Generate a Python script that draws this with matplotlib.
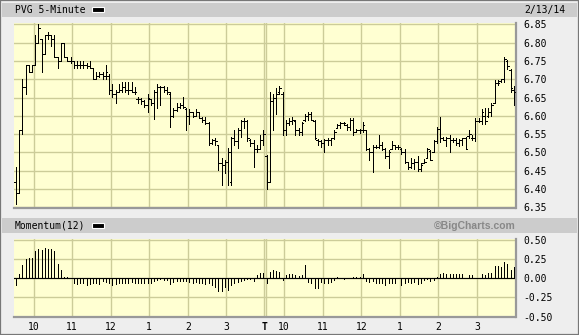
import numpy as np
import matplotlib
matplotlib.use("Agg")
import matplotlib.pyplot as plt
from matplotlib.patches import Rectangle

plt.rcParams['font.family'] = 'DejaVu Sans Mono'
plt.rcParams['axes.unicode_minus'] = False

# PVG 5-minute bars, 2/12/14 and 2/13/14 (78 bars per day)
opens = [6.42, 6.39, 6.56, 6.68, 6.74, 6.72, 6.74, 6.80, 6.81, 6.77,
         6.82, 6.82, 6.81, 6.76, 6.75, 6.80, 6.76, 6.75, 6.75, 6.74,
         6.74, 6.74, 6.74, 6.735, 6.73, 6.70, 6.71, 6.715, 6.71, 6.71,
         6.67, 6.66, 6.665, 6.67, 6.68, 6.67, 6.67, 6.665, 6.645, 6.645,
         6.64, 6.63, 6.645, 6.635, 6.665, 6.68, 6.68, 6.67, 6.66, 6.60,
         6.615, 6.625, 6.63, 6.62, 6.60, 6.61, 6.60, 6.61, 6.595, 6.59,
         6.58, 6.525, 6.535, 6.52, 6.47, 6.465, 6.475, 6.42, 6.54, 6.53,
         6.56, 6.585, 6.585, 6.535, 6.525, 6.51, 6.51, 6.535,
         6.49, 6.42, 6.64, 6.65, 6.665, 6.66, 6.56, 6.58, 6.585, 6.585, 6.56, 6.555,
         6.59, 6.60, 6.605, 6.585, 6.535, 6.53, 6.525, 6.535, 6.535, 6.54,
         6.566, 6.575, 6.58, 6.575, 6.57, 6.59, 6.556, 6.56, 6.56, 6.56,
         6.51, 6.50, 6.515, 6.515, 6.52, 6.51, 6.49, 6.51, 6.52, 6.515,
         6.51, 6.50, 6.475, 6.46, 6.47, 6.475, 6.455, 6.47, 6.485, 6.505,
         6.50, 6.53, 6.565, 6.54, 6.535, 6.54, 6.535, 6.535, 6.525, 6.535,
         6.54, 6.545, 6.54, 6.54, 6.585, 6.585, 6.60, 6.60, 6.61, 6.635,
         6.69, 6.695, 6.70, 6.75, 6.725, 6.67]
highs = [6.46, 6.56, 6.70, 6.74, 6.74, 6.74, 6.82, 6.85, 6.81, 6.82,
         6.83, 6.82, 6.82, 6.76, 6.80, 6.80, 6.76, 6.76, 6.75, 6.75,
         6.75, 6.75, 6.745, 6.75, 6.73, 6.72, 6.72, 6.72, 6.74, 6.713,
         6.688, 6.670, 6.688, 6.693, 6.693, 6.693, 6.693, 6.679, 6.652, 6.649,
         6.643, 6.661, 6.647, 6.670, 6.688, 6.682, 6.682, 6.679, 6.664, 6.622,
         6.634, 6.634, 6.652, 6.622, 6.620, 6.611, 6.620, 6.611, 6.597, 6.597,
         6.584, 6.538, 6.540, 6.520, 6.484, 6.479, 6.511, 6.543, 6.561, 6.566,
         6.588, 6.593, 6.588, 6.538, 6.534, 6.520, 6.547, 6.561,
         6.493, 6.664, 6.661, 6.675, 6.682, 6.664, 6.588, 6.593, 6.597, 6.588, 6.566, 6.584,
         6.606, 6.611, 6.611, 6.588, 6.538, 6.534, 6.538, 6.540, 6.540, 6.561,
         6.579, 6.584, 6.584, 6.579, 6.593, 6.595, 6.564, 6.564, 6.582, 6.561,
         6.511, 6.520, 6.520, 6.549, 6.529, 6.511, 6.506, 6.531, 6.520, 6.520,
         6.511, 6.509, 6.475, 6.484, 6.482, 6.491, 6.470, 6.482, 6.511, 6.506,
         6.534, 6.570, 6.597, 6.543, 6.543, 6.549, 6.540, 6.540, 6.538, 6.540,
         6.543, 6.561, 6.547, 6.593, 6.593, 6.620, 6.622, 6.622, 6.634, 6.697,
         6.697, 6.700, 6.761, 6.752, 6.729, 6.682]
lows = [6.36, 6.39, 6.55, 6.66, 6.72, 6.72, 6.74, 6.80, 6.72, 6.77,
        6.81, 6.79, 6.76, 6.73, 6.75, 6.76, 6.75, 6.745, 6.73, 6.73,
        6.73, 6.73, 6.73, 6.73, 6.70, 6.70, 6.705, 6.70, 6.70, 6.661,
        6.652, 6.634, 6.664, 6.664, 6.666, 6.661, 6.664, 6.661, 6.634, 6.631,
        6.625, 6.611, 6.629, 6.591, 6.622, 6.629, 6.664, 6.661, 6.570, 6.597,
        6.613, 6.622, 6.622, 6.561, 6.579, 6.597, 6.600, 6.593, 6.582, 6.579,
        6.520, 6.522, 6.520, 6.452, 6.411, 6.443, 6.411, 6.411, 6.520, 6.511,
        6.543, 6.566, 6.531, 6.518, 6.461, 6.502, 6.509, 6.520,
        6.400, 6.420, 6.561, 6.606, 6.661, 6.549, 6.549, 6.575, 6.579, 6.549, 6.549, 6.549,
        6.586, 6.588, 6.591, 6.538, 6.520, 6.516, 6.500, 6.520, 6.520, 6.538,
        6.566, 6.566, 6.575, 6.561, 6.561, 6.549, 6.556, 6.552, 6.556, 6.506,
        6.479, 6.447, 6.511, 6.511, 6.506, 6.484, 6.458, 6.509, 6.509, 6.509,
        6.497, 6.470, 6.455, 6.458, 6.456, 6.449, 6.449, 6.470, 6.484, 6.479,
        6.500, 6.525, 6.529, 6.534, 6.518, 6.500, 6.529, 6.520, 6.518, 6.520,
        6.509, 6.540, 6.534, 6.531, 6.582, 6.579, 6.579, 6.597, 6.600, 6.634,
        6.684, 6.693, 6.693, 6.729, 6.666, 6.629]
closes = [6.39, 6.56, 6.68, 6.74, 6.72, 6.74, 6.80, 6.84, 6.77, 6.82,
          6.82, 6.81, 6.76, 6.75, 6.80, 6.76, 6.75, 6.75, 6.74, 6.74,
          6.74, 6.74, 6.735, 6.73, 6.70, 6.71, 6.715, 6.71, 6.72, 6.67,
          6.66, 6.665, 6.67, 6.68, 6.67, 6.67, 6.665, 6.665, 6.645, 6.64,
          6.63, 6.65, 6.635, 6.665, 6.68, 6.68, 6.67, 6.665, 6.60, 6.615,
          6.625, 6.63, 6.625, 6.60, 6.61, 6.60, 6.61, 6.595, 6.59, 6.58,
          6.525, 6.535, 6.53, 6.47, 6.465, 6.475, 6.50, 6.54, 6.53, 6.56,
          6.585, 6.585, 6.54, 6.525, 6.51, 6.51, 6.535, 6.55,
          6.42, 6.64, 6.65, 6.66, 6.675, 6.56, 6.58, 6.585, 6.59, 6.56, 6.555, 6.58,
          6.60, 6.605, 6.59, 6.54, 6.53, 6.525, 6.535, 6.535, 6.54, 6.555,
          6.575, 6.58, 6.58, 6.57, 6.59, 6.555, 6.56, 6.56, 6.575, 6.51,
          6.50, 6.515, 6.515, 6.52, 6.51, 6.49, 6.50, 6.52, 6.515, 6.515,
          6.50, 6.475, 6.46, 6.47, 6.475, 6.455, 6.465, 6.475, 6.51, 6.48,
          6.53, 6.565, 6.54, 6.535, 6.54, 6.535, 6.535, 6.525, 6.535, 6.54,
          6.51, 6.55, 6.54, 6.585, 6.585, 6.61, 6.585, 6.61, 6.63, 6.69,
          6.69, 6.70, 6.755, 6.735, 6.675, 6.665]

# Momentum(12)
momentum = [-0.085, 0.055, 0.17, 0.256, 0.27, 0.27, 0.35, 0.385, 0.363, 0.397,
            0.376, 0.376, 0.35, 0.18, 0.107, 0.02, 0.013, 0.0, -0.056, -0.077,
            -0.056, -0.064, -0.09, -0.073, -0.064, -0.056, -0.077, -0.034, -0.047, -0.064,
            -0.09, -0.073, -0.064, -0.056, -0.064, -0.056, -0.047, -0.064, -0.056, -0.064,
            -0.064, -0.064, -0.064, -0.034, -0.021, -0.009, -0.021, -0.021, -0.077, -0.047,
            -0.03, -0.03, -0.03, -0.03, -0.047, -0.064, -0.043, -0.056, -0.064, -0.077,
            -0.056, -0.085, -0.115, -0.171, -0.171, -0.115, -0.158, -0.09, -0.064, -0.047,
            -0.03, -0.021, -0.009, -0.004, -0.03, 0.047, 0.064, 0.068,
            -0.056, 0.085, 0.107, 0.098, 0.085, -0.021, 0.043, 0.055, 0.055, 0.043, 0.03, 0.043,
            0.179, -0.043, -0.056, -0.128, -0.128, -0.043, -0.064, -0.056, -0.043, -0.021,
            0.013, 0.0, -0.013, 0.0, 0.0, 0.021, 0.021, 0.013, 0.055, -0.03,
            -0.043, -0.038, -0.056, -0.056, -0.064, -0.085, -0.064, -0.056, -0.056, 0.0,
            -0.081, -0.056, -0.047, -0.064, -0.047, -0.073, -0.056, -0.021, -0.013, -0.038,
            -0.021, 0.021, 0.055, 0.064, 0.055, 0.055, 0.055, 0.055, 0.055, 0.055,
            0.0, 0.043, 0.043, 0.0, 0.0, 0.055, 0.043, 0.064, 0.073, 0.158,
            0.158, 0.149, 0.213, 0.192, 0.107, 0.149]

hour_labels = ['10', '11', '12', '1', '2', '3', 'T', '10', '11', '12', '1', '2', '3']
hour_bars = [6, 18, 30, 42, 54, 66, 78, 84, 96, 108, 120, 132, 144]
price_ticks = [6.35, 6.40, 6.45, 6.50, 6.55, 6.60, 6.65, 6.70, 6.75, 6.80, 6.85]
mom_ticks = [-0.50, -0.25, 0.00, 0.25, 0.50]

n = len(closes)
x = np.arange(n) + 0.5

W, H = 579.0, 335.0
bg = '#eeeeee'
bar_gray = '#cccccc'
plot_bg = '#ffffd2'
grid_c = '#cccc99'
edge_c = '#999999'

fig = plt.figure(figsize=(W / 100, H / 100), dpi=100)
fig.patch.set_facecolor(bg)


def frect(x0, y0, x1, y1, **kw):
    # rectangle given in pixel coords (top-left origin)
    r = Rectangle((x0 / W, 1 - y1 / H), (x1 - x0) / W, (y1 - y0) / H,
                  transform=fig.transFigure, **kw)
    fig.patches.append(r)


# header bars
frect(2, 3.3, 577, 16.7, facecolor=bar_gray, edgecolor='none')
frect(2, 218.3, 577, 232.7, facecolor=bar_gray, edgecolor='none')
# legend swatches
frect(91.5, 7.0, 104, 11.7, facecolor='black', edgecolor='white', lw=0.8)
frect(91.5, 223.0, 104, 227.7, facecolor='black', edgecolor='white', lw=0.8)
# outer border
frect(0, 0, W, H, facecolor='none', edgecolor='#777777', lw=1.6)

fig.text(15 / W, 1 - 10 / H, 'PVG 5-Minute', fontsize=7, va='center', ha='left')
fig.text(565 / W, 1 - 10 / H, '2/13/14', fontsize=7, va='center', ha='right')
fig.text(15 / W, 1 - 225.7 / H, 'Momentum(12)', fontsize=7, va='center', ha='left')
fig.text(515.7 / W, 1 - 225.7 / H, '\u00a9BigCharts.com', fontsize=7.5, va='center',
         ha='right', color='#888888', fontweight='bold', family='Liberation Sans')

left, right = 14.3, 515.5
ax1 = fig.add_axes([left / W, 1 - 207.7 / H, (right - left) / W, (207.7 - 22.7) / H])
ax2 = fig.add_axes([left / W, 1 - 317.3 / H, (right - left) / W, (317.3 - 239.3) / H])

for ax in (ax1, ax2):
    ax.set_facecolor(plot_bg)
    ax.set_xlim(0, n)
    for h in hour_bars:
        if h == 78:
            ax.axvline(h - 0.3, color=grid_c, lw=1.0, zorder=1)
            ax.axvline(h + 0.3, color=grid_c, lw=1.0, zorder=1)
        else:
            ax.axvline(h, color=grid_c, lw=1.0, zorder=1)
    ax.spines['top'].set_visible(False)
    ax.spines['left'].set_visible(False)
    ax.spines['bottom'].set_color(edge_c)
    ax.spines['right'].set_color(edge_c)
    ax.spines['bottom'].set_linewidth(1.6)
    ax.spines['right'].set_linewidth(1.6)
    ax.yaxis.tick_right()
    ax.tick_params(axis='y', length=0, pad=5.5, labelsize=7)
    ax.grid(axis='y', color=grid_c, lw=1.0, zorder=1)
    ax.set_axisbelow(True)

# price panel - OHLC bars
ax1.vlines(x, lows, highs, color='black', lw=0.5, zorder=3, antialiased=False)
ax1.hlines(opens, x - 0.5, x, color='black', lw=0.5, zorder=3, antialiased=False)
ax1.hlines(closes, x, x + 0.5, color='black', lw=0.5, zorder=3, antialiased=False)
ax1.set_ylim(6.349, 6.8545)
ax1.set_yticks(price_ticks)
ax1.set_yticklabels(['%.2f' % v for v in price_ticks])
ax1.set_xticks([])

# momentum panel
ax2.vlines(x, 0, momentum, color='black', lw=0.5, zorder=3, antialiased=False)
ax2.axhline(0, color='black', lw=0.8, zorder=2)
ax2.set_ylim(-0.508, 0.508)
ax2.set_yticks(mom_ticks)
ax2.set_yticklabels(['%.2f' % v for v in mom_ticks])
ax2.set_xticks(hour_bars)
ax2.set_xticklabels(hour_labels)
ax2.tick_params(axis='x', length=0, pad=3.5, labelsize=7)
ax2.get_xticklabels()[6].set_fontweight('bold')

fig.savefig('out.png', dpi=100, facecolor=fig.get_facecolor())
